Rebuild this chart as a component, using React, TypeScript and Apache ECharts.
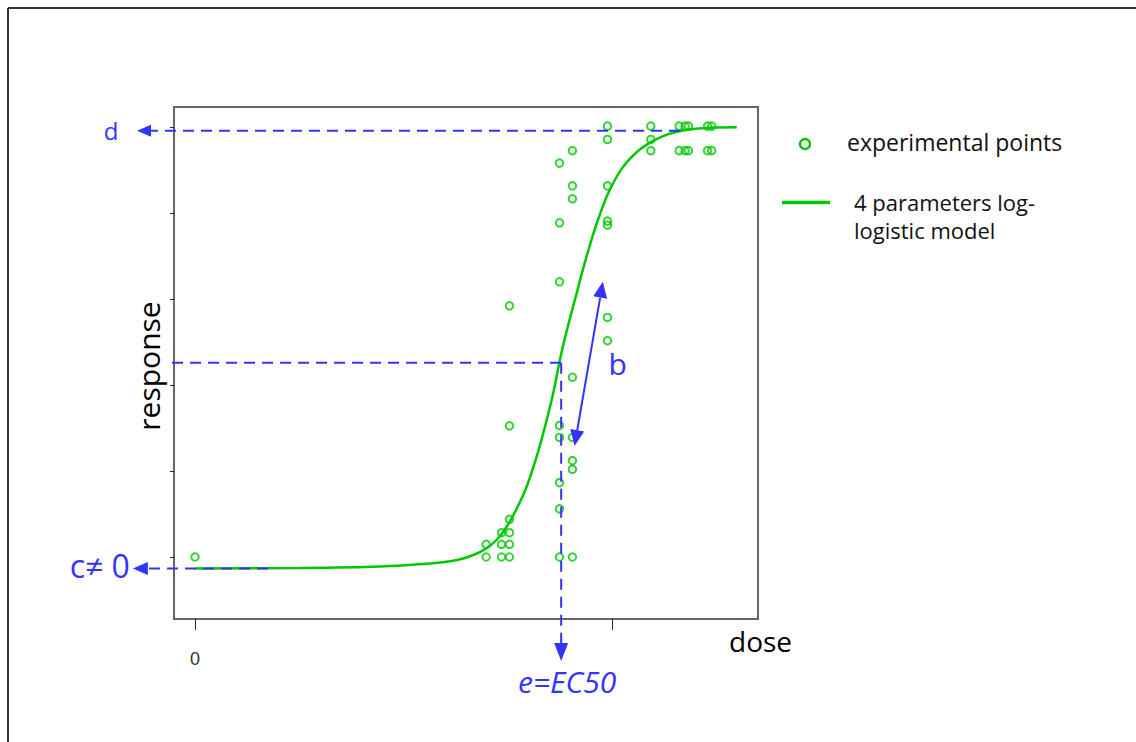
import React, { useEffect, useRef } from "react";
import * as echarts from "echarts";

// ---- data (dose on a log-like scale, response in %) ----
const pointDose = [
  0,
  6.98, 6.98,
  7.35, 7.35, 7.35,
  7.54, 7.54, 7.54, 7.54, 7.54, 7.54,
  8.74, 8.74, 8.74, 8.74, 8.74, 8.74, 8.74, 8.74,
  9.05, 9.05, 9.05, 9.05, 9.05, 9.05, 9.05, 9.05,
  9.89, 9.89, 9.89, 9.89, 9.89, 9.89, 9.89,
  10.93, 10.93, 10.93,
  11.61, 11.61, 11.75, 11.75, 11.83, 11.83,
  12.29, 12.29, 12.39, 12.39,
];
const pointResponse = [
  0,
  0, 2.95,
  0, 2.95, 5.65,
  0, 2.95, 5.65, 8.77, 30.5, 58.4,
  0, 11.2, 17.3, 27.8, 30.6, 64.0, 77.7, 91.6,
  0, 20.4, 22.4, 27.8, 41.8, 83.3, 86.3, 94.5,
  50.3, 55.7, 77.2, 78.1, 86.3, 97.1, 100.2,
  94.5, 97.1, 100.2,
  94.5, 100.2, 94.5, 100.2, 94.5, 100.2,
  94.5, 100.2, 94.5, 100.2,
];

// fitted model curve
const curveDose = [
  0, 2.52, 4.44, 5.64, 6.12, 6.43, 6.76, 7.0, 7.24, 7.47, 7.71, 7.95, 8.19,
  8.39, 8.59, 8.75, 8.87, 9.16, 9.35, 9.51, 9.67, 9.91, 10.23, 10.55, 10.87,
  11.27, 11.67, 12.07, 12.47, 12.99,
];
const curveResponse = [
  -2.67, -2.56, -2.21, -1.51, -0.99, -0.36, 0.81, 2.09, 4.07, 6.98, 11.16,
  16.28, 23.26, 30.23, 38.14, 45.81, 50.93, 61.67, 68.56, 73.86, 78.6, 84.65,
  90.26, 93.81, 96.14, 98.07, 99.12, 99.65, 99.88, 99.95,
];

const yTickValues = [0, 20, 40, 60, 80, 100];
const xTickValues = [0, 10];
const xLabelValues = [0];

// model parameters shown by the annotations
const lowerC = -2.7;
const upperD = 99.1;
const halfResponse = 45.2;
const ec50 = 8.78;

// annotation extents (data units)
const dArrowFrom = 11.63;
const dArrowTip = -1.39;
const cArrowFrom = 1.75;
const cArrowTip = -1.49;
const halfLineStart = -0.55;
const ecArrowTip = -24.2;
const bTop = [9.78, 64.0];
const bBottom = [9.1, 25.8];

const GREEN = "#00c800";
const BLUE = "#3333ff";
const FONT = "'Open Sans', 'Noto Sans', sans-serif";

function arrowHead(tip: number[], from: number[], len: number, half: number) {
  const dx = tip[0] - from[0];
  const dy = tip[1] - from[1];
  const L = Math.hypot(dx, dy) || 1;
  const ux = dx / L;
  const uy = dy / L;
  const bx = tip[0] - ux * len;
  const by = tip[1] - uy * len;
  return {
    head: {
      type: "polygon",
      z: 100,
      shape: {
        points: [
          [tip[0], tip[1]],
          [bx - uy * half, by + ux * half],
          [bx + uy * half, by - ux * half],
        ],
      },
      style: { fill: BLUE },
    },
    base: [bx, by],
  };
}

function dashed(a: number[], b: number[]) {
  return {
    type: "line",
    z: 100,
    shape: { x1: a[0], y1: a[1], x2: b[0], y2: b[1] },
    style: { stroke: BLUE, lineWidth: 2, lineDash: [11, 7] },
  };
}

export default function App() {
  const ref = useRef<HTMLDivElement>(null);

  useEffect(() => {
    document.body.style.margin = "0";
    const chart = echarts.init(ref.current!, null, { renderer: "svg" });
    chart.setOption({
      animation: false,
      backgroundColor: "#ffffff",
      grid: {
        left: 174,
        top: 107,
        width: 584,
        height: 512,
        show: true,
        borderColor: "#666666",
        borderWidth: 2,
        backgroundColor: "#ffffff",
      },
      xAxis: {
        type: "value",
        min: -0.504,
        max: 13.5,
        axisLine: { show: false, onZero: false },
        splitLine: { show: false },
        axisTick: {
          show: true,
          customValues: xTickValues,
          length: 11,
          lineStyle: { color: "#222", width: 1 },
        },
        axisLabel: {
          show: true,
          customValues: xLabelValues,
          margin: 31,
          fontSize: 18,
          color: "#333",
          fontFamily: "'Liberation Sans Narrow', 'Liberation Sans', sans-serif",
        },
      },
      yAxis: {
        type: "value",
        min: -14.42,
        max: 104.65,
        axisLine: { show: false, onZero: false },
        splitLine: { show: false },
        axisTick: {
          show: true,
          customValues: yTickValues,
          length: 4,
          lineStyle: { color: "#222", width: 1 },
        },
        axisLabel: { show: false },
      },
      series: [
        {
          name: "4 parameters log-logistic model",
          type: "line",
          data: curveDose.map((d, i) => [d, curveResponse[i]]),
          symbol: "none",
          showSymbol: false,
          smooth: 0.35,
          lineStyle: { color: GREEN, width: 2.5 },
          z: 3,
        },
        {
          name: "experimental points",
          type: "scatter",
          data: pointDose.map((d, i) => [d, pointResponse[i]]),
          symbol: "circle",
          symbolSize: 7.5,
          itemStyle: {
            color: "rgba(0,0,0,0)",
            borderColor: GREEN,
            borderWidth: 2,
          },
          z: 4,
        },
      ],
    });

    const px = (x: number, y: number) =>
      chart.convertToPixel({ gridIndex: 0 } as any, [x, y]) as number[];

    const els: any[] = [];

    // outer frame (top and left)
    els.push({
      type: "line",
      z: 100,
      shape: { x1: 8, y1: 8, x2: 1136, y2: 8 },
      style: { stroke: "#333", lineWidth: 2 },
    });
    els.push({
      type: "line",
      z: 100,
      shape: { x1: 8, y1: 8, x2: 8, y2: 742 },
      style: { stroke: "#333", lineWidth: 2 },
    });

    // d arrow
    const dFrom = px(dArrowFrom, upperD);
    const dTip = px(dArrowTip, upperD);
    const dH = arrowHead(dTip, dFrom, 14, 6);
    els.push(dashed(dFrom, dH.base), dH.head);
    els.push({
      type: "text",
      z: 100,
      x: dTip[0] - 26,
      y: dTip[1],
      style: {
        text: "d",
        fill: BLUE,
        font: `24px ${FONT}`,
        align: "center",
        verticalAlign: "middle",
      },
    });

    // c arrow
    const cFrom = px(cArrowFrom, lowerC);
    const cTip = px(cArrowTip, lowerC);
    const cH = arrowHead(cTip, cFrom, 15, 6.5);
    els.push(dashed(cFrom, cH.base), cH.head);
    els.push({
      type: "text",
      z: 100,
      x: cTip[0] - 3,
      y: cTip[1] - 3,
      style: {
        text: "c\u2260 0",
        fill: BLUE,
        font: `32px ${FONT}`,
        align: "right",
        verticalAlign: "middle",
      },
    });

    // half response line and EC50 arrow
    const hStart = px(halfLineStart, halfResponse);
    const hEnd = px(ec50, halfResponse);
    els.push(dashed(hStart, hEnd));
    const eTip = px(ec50, ecArrowTip);
    const eH = arrowHead(eTip, hEnd, 18, 7);
    els.push(dashed(hEnd, eH.base), eH.head);
    els.push({
      type: "text",
      z: 100,
      x: eTip[0] + 6,
      y: eTip[1] + 20,
      style: {
        text: "e=EC50",
        fill: BLUE,
        font: `italic 30px ${FONT}`,
        align: "center",
        verticalAlign: "middle",
      },
    });

    // slope b double arrow
    const bT = px(bTop[0], bTop[1]);
    const bB = px(bBottom[0], bBottom[1]);
    const bH1 = arrowHead(bT, bB, 16, 7);
    const bH2 = arrowHead(bB, bT, 16, 7);
    els.push({
      type: "line",
      z: 100,
      shape: { x1: bH1.base[0], y1: bH1.base[1], x2: bH2.base[0], y2: bH2.base[1] },
      style: { stroke: BLUE, lineWidth: 2 },
    });
    els.push(bH1.head, bH2.head);
    els.push({
      type: "text",
      z: 100,
      x: (bT[0] + bB[0]) / 2 + 29,
      y: (bT[1] + bB[1]) / 2,
      style: {
        text: "b",
        fill: BLUE,
        font: `30px ${FONT}`,
        align: "center",
        verticalAlign: "middle",
      },
    });

    // axis titles
    els.push({
      type: "text",
      z: 100,
      x: 729,
      y: 641,
      style: {
        text: "dose",
        fill: "#000",
        font: `28px ${FONT}`,
        align: "left",
        verticalAlign: "middle",
      },
    });
    els.push({
      type: "text",
      z: 100,
      x: 148,
      y: 366,
      rotation: Math.PI / 2,
      style: {
        text: "response",
        fill: "#000",
        font: `30px ${FONT}`,
        align: "center",
        verticalAlign: "middle",
      },
    });

    // legend
    els.push({
      type: "circle",
      z: 100,
      shape: { cx: 805, cy: 144, r: 5 },
      style: { stroke: GREEN, lineWidth: 2.4, fill: "rgba(0,0,0,0)" },
    });
    els.push({
      type: "text",
      z: 100,
      x: 847,
      y: 142,
      style: {
        text: "experimental points",
        fill: "#111",
        font: `23px ${FONT}`,
        align: "left",
        verticalAlign: "middle",
      },
    });
    els.push({
      type: "line",
      z: 100,
      shape: { x1: 782, y1: 202.5, x2: 830, y2: 202.5 },
      style: { stroke: GREEN, lineWidth: 3.5 },
    });
    els.push({
      type: "text",
      z: 100,
      x: 854,
      y: 188,
      style: {
        text: "4 parameters log-\nlogistic model",
        fill: "#111",
        font: `22px ${FONT}`,
        lineHeight: 28,
        align: "left",
        verticalAlign: "top",
      },
    });

    chart.setOption({ graphic: { elements: els } });

    return () => {
      chart.dispose();
    };
  }, []);

  return <div ref={ref} style={{ width: 1136, height: 742 }} />;
}
